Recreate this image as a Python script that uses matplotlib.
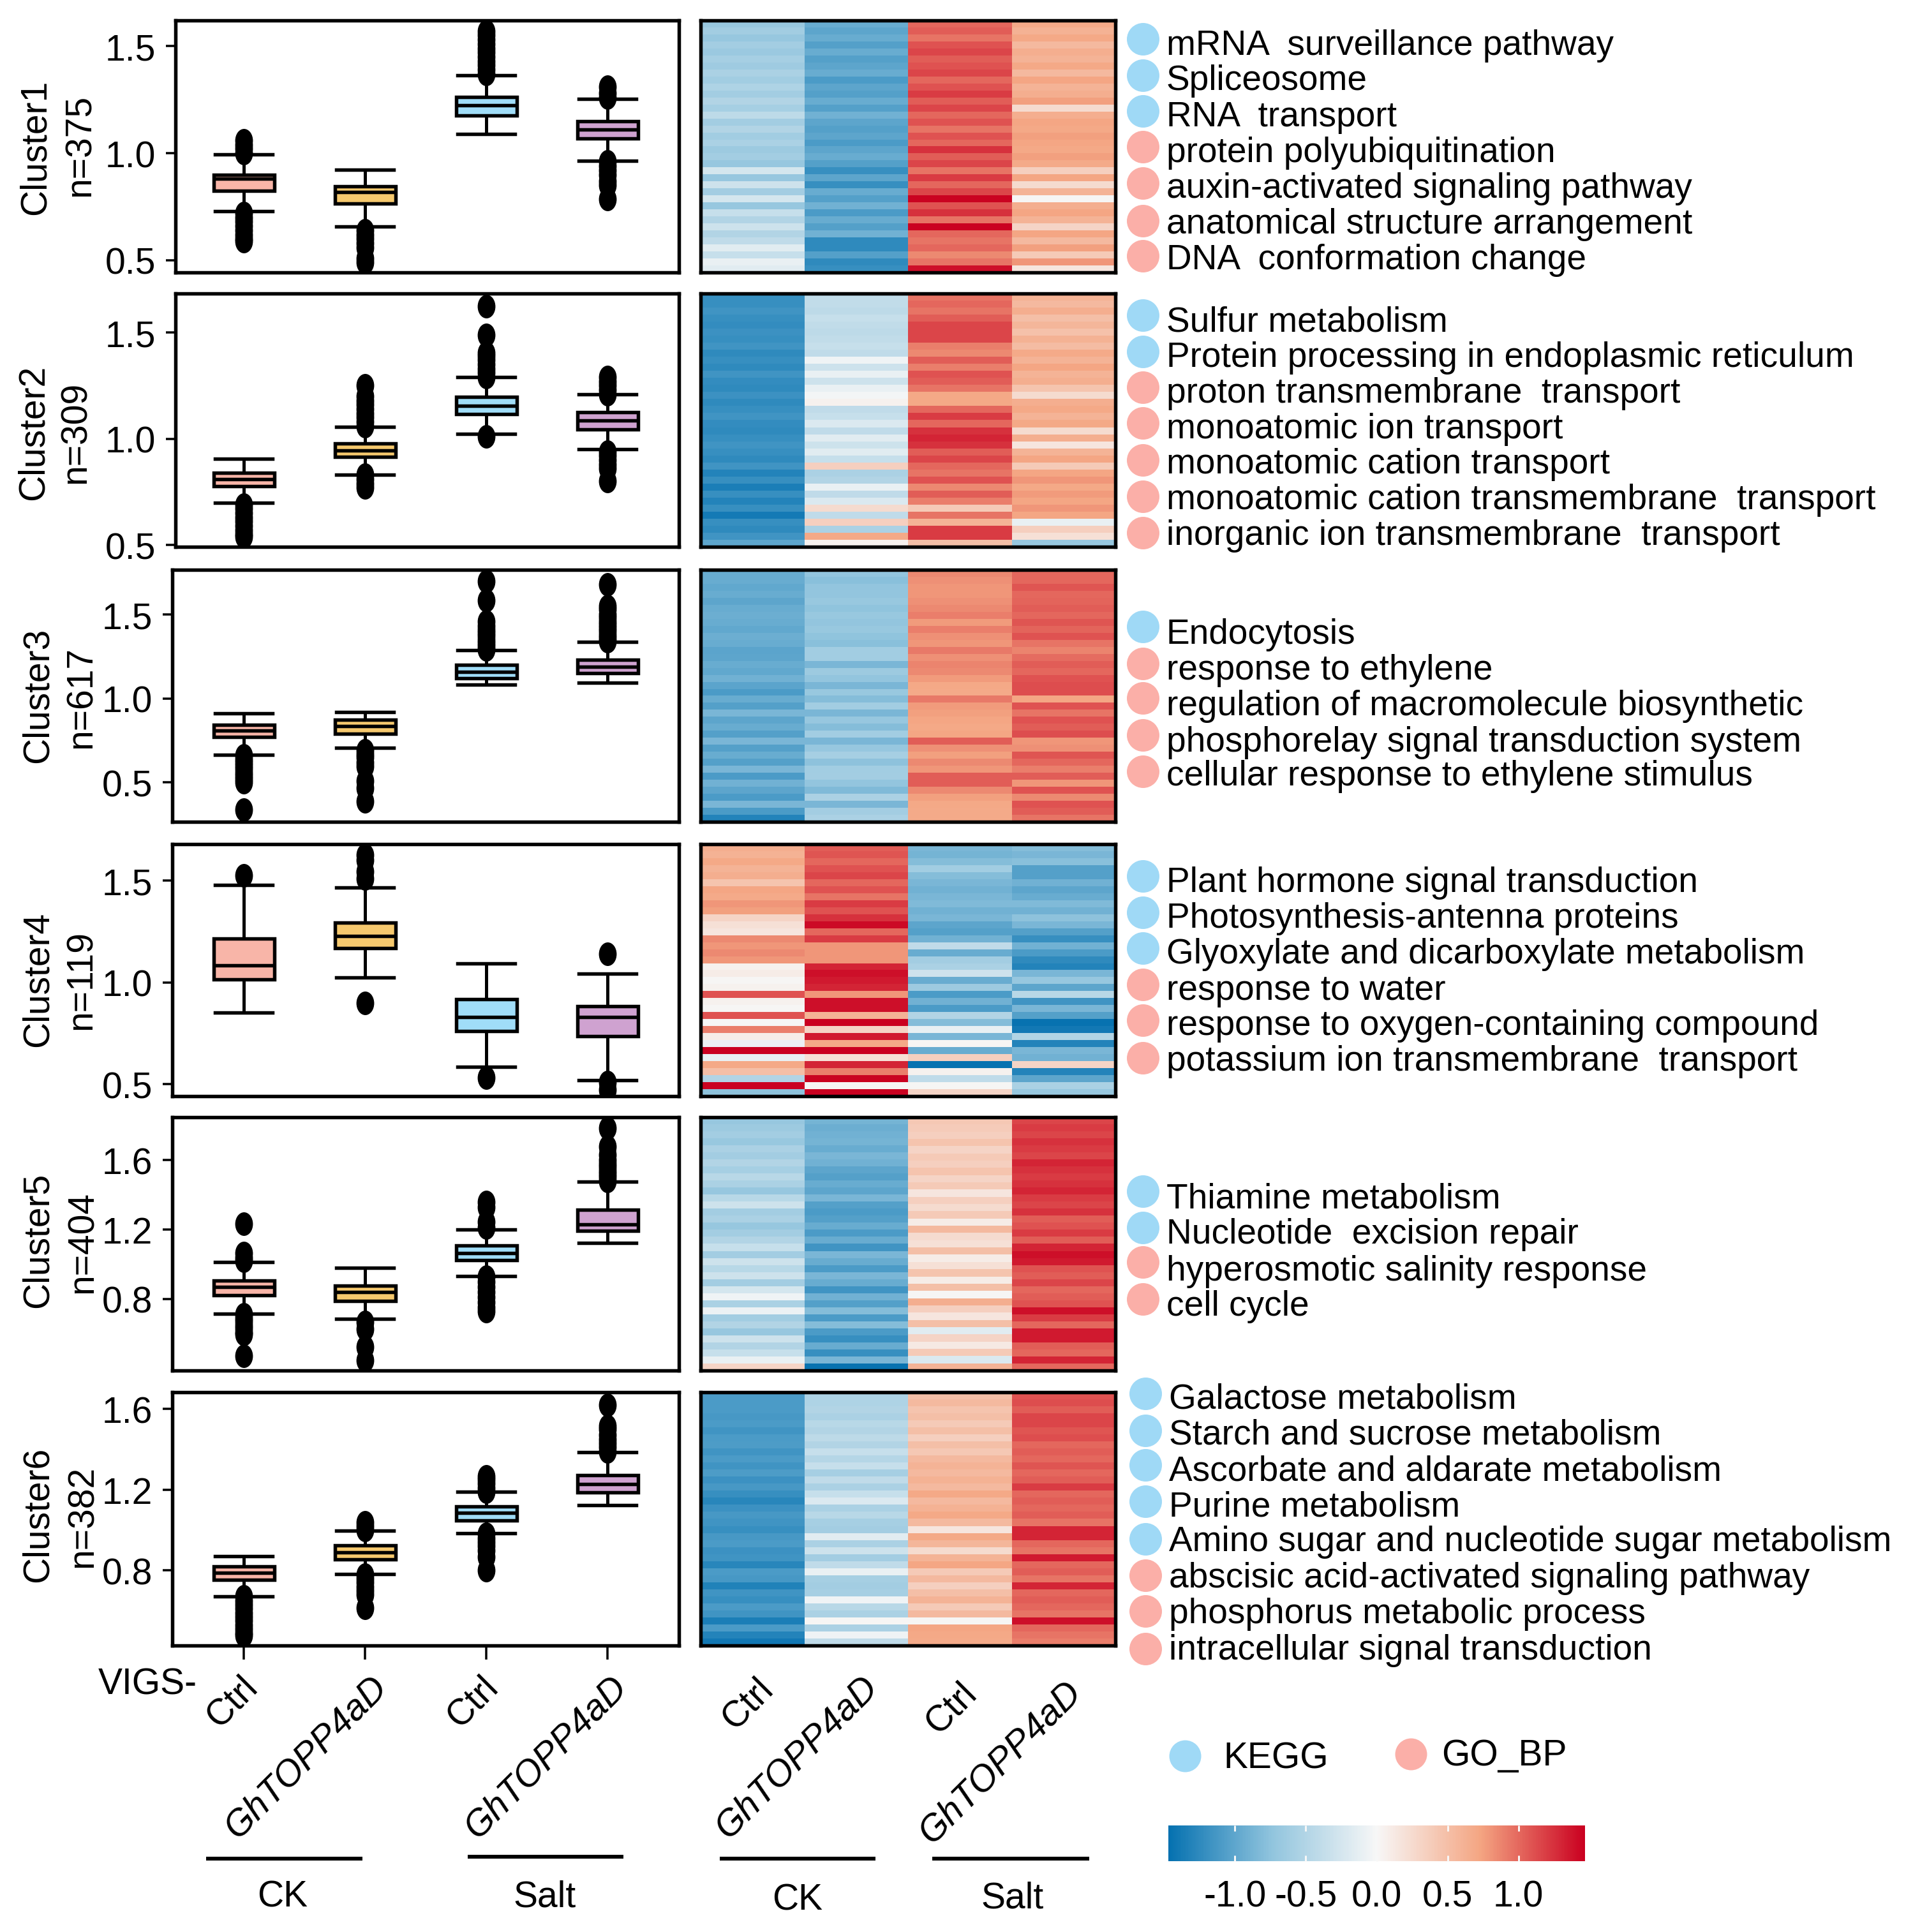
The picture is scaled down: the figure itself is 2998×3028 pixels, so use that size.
import numpy as np
import matplotlib
matplotlib.use('Agg')
import matplotlib.pyplot as plt
from matplotlib.colors import LinearSegmentedColormap, Normalize
from matplotlib.cm import ScalarMappable
from matplotlib.path import Path
from matplotlib.transforms import Affine2D

plt.rcParams['font.family'] = ['Liberation Sans', 'DejaVu Sans']

W, H = 2998, 3029
DPI = 300
PX = 72 / DPI
FS = 57 * PX
TERM_FS = 55 * PX
CLUSTER_FS = 57 * PX

# box statistics, one row per cluster, one value per group
box_med = [[0.88, 0.817, 1.223, 1.111], [0.81, 0.945, 1.155, 1.086], [0.809, 0.834, 1.16, 1.187],
           [1.084, 1.228, 0.83, 0.83], [0.87, 0.839, 1.066, 1.231], [0.787, 0.89, 1.085, 1.227]]
box_q1 = [[0.824, 0.765, 1.175, 1.068], [0.776, 0.914, 1.116, 1.043], [0.772, 0.791, 1.119, 1.149],
          [1.014, 1.167, 0.761, 0.736], [0.821, 0.79, 1.025, 1.194], [0.753, 0.856, 1.049, 1.186]]
box_q3 = [[0.90, 0.846, 1.262, 1.15], [0.841, 0.979, 1.197, 1.124], [0.843, 0.872, 1.2, 1.23],
          [1.216, 1.295, 0.919, 0.884], [0.907, 0.878, 1.107, 1.313], [0.819, 0.923, 1.118, 1.271]]
box_lo = [[0.73, 0.658, 1.09, 0.964], [0.698, 0.831, 1.022, 0.952], [0.664, 0.706, 1.081, 1.094],
          [0.851, 1.026, 0.587, 0.52], [0.715, 0.685, 0.932, 1.122], [0.672, 0.783, 0.985, 1.124]]
box_hi = [[0.995, 0.923, 1.363, 1.253], [0.905, 1.057, 1.29, 1.209], [0.911, 0.921, 1.287, 1.338],
          [1.48, 1.466, 1.093, 1.042], [1.012, 0.981, 1.2, 1.476], [0.87, 0.996, 1.191, 1.386]]

box_fliers = [
    [[1.0, 1.02, 1.04, 1.06, 0.72, 0.70, 0.68, 0.66, 0.64, 0.62, 0.60, 0.59],
     [0.64, 0.62, 0.60, 0.58, 0.56, 0.51, 0.49],
     [1.37, 1.39, 1.41, 1.43, 1.45, 1.47, 1.49, 1.51, 1.53, 1.55, 1.57],
     [1.26, 1.28, 1.31, 0.96, 0.94, 0.92, 0.90, 0.87, 0.85, 0.785]],
    [[0.69, 0.67, 0.65, 0.63, 0.61, 0.59, 0.57, 0.55, 0.54],
     [1.06, 1.08, 1.10, 1.12, 1.14, 1.16, 1.18, 1.20, 1.25, 0.83, 0.81, 0.79, 0.77],
     [1.29, 1.31, 1.33, 1.35, 1.37, 1.39, 1.405, 1.49, 1.624, 1.01],
     [1.21, 1.23, 1.25, 1.27, 1.29, 0.94, 0.92, 0.90, 0.88, 0.86, 0.80]],
    [[0.66, 0.64, 0.62, 0.60, 0.58, 0.56, 0.54, 0.52, 0.50, 0.34],
     [0.69, 0.67, 0.65, 0.62, 0.596, 0.51, 0.468, 0.387],
     [1.29, 1.31, 1.33, 1.35, 1.37, 1.39, 1.41, 1.43, 1.457, 1.585, 1.698],
     [1.34, 1.36, 1.38, 1.40, 1.42, 1.44, 1.46, 1.48, 1.50, 1.53, 1.55, 1.68]],
    [[1.524], [1.51, 1.545, 1.60, 1.625, 0.90], [0.534], [1.14, 0.51, 0.473]],
    [[1.02, 1.04, 1.064, 1.235, 0.71, 0.69, 0.67, 0.65, 0.63, 0.61, 0.596, 0.472],
     [0.668, 0.627, 0.524, 0.445],
     [1.21, 1.245, 1.328, 1.359, 0.93, 0.90, 0.87, 0.84, 0.81, 0.78, 0.75, 0.73],
     [1.48, 1.50, 1.52, 1.54, 1.56, 1.58, 1.60, 1.63, 1.678, 1.786]],
    [[0.67, 0.65, 0.63, 0.61, 0.59, 0.57, 0.55, 0.53, 0.51, 0.49, 0.477],
     [1.0, 1.02, 1.039, 0.78, 0.76, 0.74, 0.72, 0.70, 0.68, 0.613],
     [1.19, 1.21, 1.23, 1.25, 1.266, 0.98, 0.96, 0.94, 0.92, 0.90, 0.867, 0.80],
     [1.39, 1.41, 1.43, 1.45, 1.47, 1.50, 1.515, 1.62]],
]

# heatmap columns, read top to bottom
heat1 = [
    [-.68, -.62, -.70, -.60, -.66, -.58, -.64, -.55, -.62, -.52, -.60, -.50, -.58, -.42, -.60, -.50, -.62, -.55, -.65, -.60, -.70,
     -.25, -.70, -.30, -.60, -.25, -.70, -.35, -.50, -.30, -.50, -.40, -.15, -.35, -.10, -.15],
    [-.95, -1.0, -.95, -1.05, -.95, -1.05, -1.0, -.95, -1.1, -1.0, -1.05, -.95, -1.05, -.9, -1.0, -1.05, -1.0, -1.1, -1.0, -.95, -1.05,
     -1.2, -1.0, -1.2, -.95, -1.05, -.9, -1.1, -.95, -1.05, -.9, -1.25, -1.25, -1.05, -1.25, -1.2],
    [1.0, 1.05, .95, 1.1, 1.15, 1.05, 1.1, 1.15, 1.0, 1.1, 1.2, 1.05, 1.15, 1.0, 1.1, .95, 1.1, 1.0, 1.25, 1.05, 1.15,
     .95, 1.2, 1.0, 1.15, 1.45, 1.1, 1.25, .95, 1.45, 1.0, .95, 1.0, .85, .95, 1.4],
    [.68, .62, .70, .55, .65, .60, .70, .55, .72, .60, .65, .75, .25, .65, .72, .70, .75, .72, .70, .75, .68,
     .35, .72, .25, .60, .02, .65, .72, .60, .30, .72, .55, .75, .40, .80, .15],
]
heat2 = [
    [-1.2, -1.2, -1.15, -1.2, -1.22, -1.18, -1.2, -1.15, -1.25, -1.2, -1.25, -1.15, -1.22, -1.25, -1.18, -1.25, -1.2, -1.15, -1.22, -1.25, -1.2, -1.15,
     -1.2, -1.25, -1.15, -1.3, -1.2, -1.35, -1.2, -1.3, -1.2, -1.38, -1.2, -1.25, -1.15, -1.0],
    [-.38, -.38, -.42, -.35, -.38, -.42, -.38, -.35, -.4, -.05, -.3, -.1, -.3, -.1, -.03, .05, -.4, -.35, -.2, -.4, -.15, -.3, -.15, -.35,
     .35, -.55, -.5, -.1, -.4, -.2, .25, -.4, .35, -.55, .7, .05],
    [.95, 1.0, .95, 1.05, 1.15, 1.15, 1.15, .9, .85, 1.05, .9, 1.1, 1.05, .95, .7, .7, 1.0, 1.2, 1.0, 1.25, 1.3, 1.25, 1.05, 1.15, 1.0, .95, 1.1, .85, 1.05, .9,
     .4, .95, .6, 1.2, 1.2, .5],
    [.62, .55, .65, .50, .58, .48, .62, .52, .68, .60, .72, .60, .65, .45, .25, .65, .70, .60, .70, .25, .65, .15, .60, .72, .40, .72, .80, .70, .78, .72, .80,
     .72, -.1, .35, .2, -.7],
]
heat3 = [
    [-.95, -.95, -.98, -.95, -1.0, -.95, -.92, -.95, -.98, -.92, -.95, -1.02, -1.0, -.95, -.98, -.9, -1.02, -1.1, -.95, -1.05, -.85, -1.0, -.95, -1.05,
     -.85, -1.05, -.95, -1.05, -.85, -1.1, -.9, -1.0, -1.1, -.85, -1.1, -1.3],
    [-.72, -.78, -.72, -.72, -.68, -.74, -.68, -.72, -.68, -.74, -.78, -.62, -.62, -.85, -.65, -.72, -.85, -.68, -.8, -.62, -.85, -.7, -.8, -.62, -.85,
     -.7, -.58, -.75, -.62, -.6, -.72, -.82, -.55, -.85, -.6, -.55],
    [.85, .82, .80, .80, .82, .85, .90, .78, .90, .82, .80, .92, .82, .88, .85, .78, .70, .68, .92, .78, .75, .72, .70, .72, 1.05, .82, .75, .85, .8,
     1.05, 1.05, .85, .75, .70, .68, .68],
    [1.0, 1.0, 1.08, 1.0, 1.02, 1.05, 1.0, 1.08, 1.02, 1.1, .95, .88, .98, 1.05, 1.0, 1.1, 1.12, 1.12, .72, 1.1, .95, 1.1, 1.05, 1.12, .8, .82, 1.08, 1.0,
     .9, 1.05, .8, 1.1, .85, 1.1, 1.05, .95],
]
heat4 = [
    [.65, .62, .70, .60, .65, .45, .72, .68, .80, .75, .30, .20, .15, .85, .80, .85, .80, .05, .10, .02, .05, 1.1, .05, .02, 1.1, .0, .90, .10, -.08, 1.45,
     -.10, .70, .50, -.50, 1.45, -.75],
    [1.05, 1.08, 1.0, 1.1, 1.15, 1.0, 1.1, .95, 1.2, 1.1, 1.25, 1.42, 1.0, 1.2, .8, .8, .8, 1.3, 1.4, 1.35, 1.3, .8, 1.4, 1.4, .6, 1.5, .3, 1.35, .7, 1.5,
     .2, 1.3, .9, 1.45, .0, 1.45],
    [-.85, -.88, -.8, -.62, -.8, -.85, -.9, -.85, -.82, -.9, -.85, -1.0, -1.05, -.9, -.4, -.95, -.6, -.55, -.3, -.95, -.65, -1.1, -.9, -1.1, -.5, -.8, -.1,
     -.85, .02, -.95, .35, -1.45, .05, -.4, .02, .3],
    [-.8, -.85, -.78, -1.05, -1.05, -.9, -1.0, -.95, -.82, -.9, -.75, -.85, -1.05, -1.2, -.9, -1.1, -1.25, -1.3, -.85, -.7, -1.0, -.45, -1.15, -.85, -1.05,
     -1.45, -1.4, -.5, -1.3, -.85, -.9, .3, -1.3, -1.0, -.55, -.7],
]
heat5 = [
    [-.70, -.65, -.60, -.68, -.55, -.6, -.5, -.58, -.45, -.55, -.7, -.45, -.3, -.6, -.55, -.7, -.6, -.5, -.35, -.6, -.3, -.45, -.3, -.6, -.25, -.05, -.55,
     -.08, -.6, -.5, -.7, -.3, -.5, -.35, -.1, .3],
    [-.88, -.92, -.9, -.88, -.95, -.85, -.9, -1.0, -1.05, -.95, -1.0, -.85, -1.05, -1.1, -1.05, -.95, -1.1, -.95, -1.15, -.85, -.95, -1.1, -.85, -.95,
     -1.15, -.9, -1.05, -.8, -1.1, -.8, -1.1, -1.2, -.95, -1.2, -.85, -1.45],
    [.42, .38, .35, .45, .30, .40, .35, .45, .30, .40, .15, .35, .25, .40, .10, .55, .25, .20, .50, .10, .20, .45, .10, .50, .02, .65, .35, .15, .50,
     -.15, .30, .12, .40, -.2, .60],
    [1.15, 1.2, 1.15, 1.25, 1.2, 1.15, 1.3, 1.25, 1.2, 1.25, 1.3, 1.2, 1.15, 1.25, 1.05, 1.1, 1.2, 1.05, 1.3, 1.4, 1.35, 1.1, 1.05, 1.15, 1.0, 1.05, 1.1, 1.4,
     1.2, 1.0, 1.35, 1.35, 1.05, 1.0, 1.3, 1.0],
]
heat6 = [
    [-1.1, -1.1, -1.1, -1.12, -1.1, -1.15, -1.1, -1.08, -1.15, -1.1, -1.15, -1.08, -1.18, -1.12, -1.2, -1.28, -1.18, -1.12, -1.15, -1.2, -1.12, -1.1, -1.18,
     -1.15, -1.28, -1.1, -1.12, -1.32, -1.15, -1.2, -1.1, -1.15, -1.35, -1.1, -1.3, -1.4],
    [-.52, -.52, -.5, -.55, -.45, -.5, -.42, -.5, -.35, -.48, -.35, -.58, -.4, -.55, -.35, -.2, -.55, -.45, -.58, -.6, -.15, -.55, -.3, -.6, -.4, -.1, -.58,
     -.6, -.58, -.05, -.45, -.55, .02, -.55, -.05, -.4],
    [.50, .55, .45, .50, .40, .50, .35, .50, .42, .55, .60, .55, .62, .55, .70, .55, .62, .70, .55, .15, .70, .58, .25, .60, .72, .40, .55, .35, .50, .60,
     .40, .55, .02, .72, .70, .68],
    [1.1, 1.12, 1.05, 1.15, 1.15, 1.08, 1.12, 1.0, 1.05, 1.0, 1.08, 1.0, 1.05, 1.2, 1.0, 1.05, 1.0, 1.05, .95, 1.3, 1.3, 1.0, .95, 1.35, 1.0, 1.05, .95, 1.3,
     1.0, 1.05, 1.0, .95, 1.4, 1.0, .95, .9],
]
heat_data = [heat1, heat2, heat3, heat4, heat5, heat6]

cluster_names = ['Cluster1', 'Cluster2', 'Cluster3', 'Cluster4', 'Cluster5', 'Cluster6']
cluster_sizes = ['n=375', 'n=309', 'n=617', 'n=119', 'n=404', 'n=382']
groups = ['Ctrl', 'GhTOPP4aD', 'Ctrl', 'GhTOPP4aD']
box_colors = ['#F8B5A8', '#F6C96E', '#A0DDF8', '#CFA2D0']
kegg_color = '#9FD9F6'
go_color = '#FBAFA8'

terms = [
    [('mRNA  surveillance pathway', 'K'), ('Spliceosome', 'K'), ('RNA  transport', 'K'), ('protein polyubiquitination', 'G'),
     ('auxin-activated signaling pathway', 'G'), ('anatomical structure arrangement', 'G'), ('DNA  conformation change', 'G')],
    [('Sulfur metabolism', 'K'), ('Protein processing in endoplasmic reticulum', 'K'), ('proton transmembrane  transport', 'G'),
     ('monoatomic ion transport', 'G'), ('monoatomic cation transport', 'G'), ('monoatomic cation transmembrane  transport', 'G'),
     ('inorganic ion transmembrane  transport', 'G')],
    [('Endocytosis', 'K'), ('response to ethylene', 'G'), ('regulation of macromolecule biosynthetic', 'G'),
     ('phosphorelay signal transduction system', 'G'), ('cellular response to ethylene stimulus', 'G')],
    [('Plant hormone signal transduction', 'K'), ('Photosynthesis-antenna proteins', 'K'), ('Glyoxylate and dicarboxylate metabolism', 'K'),
     ('response to water', 'G'), ('response to oxygen-containing compound', 'G'), ('potassium ion transmembrane  transport', 'G')],
    [('Thiamine metabolism', 'K'), ('Nucleotide  excision repair', 'K'), ('hyperosmotic salinity response', 'G'), ('cell cycle', 'G')],
    [('Galactose metabolism', 'K'), ('Starch and sucrose metabolism', 'K'), ('Ascorbate and aldarate metabolism', 'K'), ('Purine metabolism', 'K'),
     ('Amino sugar and nucleotide sugar metabolism', 'K'), ('abscisic acid-activated signaling pathway', 'G'),
     ('phosphorus metabolic process', 'G'), ('intracellular signal transduction', 'G')],
]

# layout in pixels of the output picture
panel_top = [33, 461, 894, 1324, 1752, 2183]
panel_bottom = [428, 858, 1289, 1719, 2149, 2580]
box_left = [275, 275, 270, 270, 270, 270]
box_right = 1064
heat_left, heat_right = 1098, 1748
ylims = [(0.443, 1.62), (0.491, 1.684), (0.266, 1.766), (0.442, 1.679), (0.388, 1.847), (0.428, 1.683)]
yticks = [[0.5, 1.0, 1.5]] * 4 + [[0.8, 1.2, 1.6]] * 2
label_x = [(56, 126), (53, 119), (60, 128), (60, 128), (60, 130), (60, 130)]
label_y = [(231, 228), (678, 678), (1090, 1093), (1535, 1536), (1944, 1947), (2374, 2377)]
term_text_x = [1828, 1828, 1828, 1828, 1828, 1832]
term_dot_x = [1791, 1791, 1791, 1791, 1791, 1795]
term_base = [[86, 141, 198, 254, 310, 366, 422], [519, 575, 631, 687, 742, 798, 854], [1009, 1065, 1121, 1178, 1231],
             [1398, 1454, 1510, 1567, 1622, 1678], [1894, 1949, 2007, 2062], [2208, 2264, 2321, 2377, 2431, 2488, 2544, 2601]]
term_dot = [[62, 119, 175, 231, 288, 347, 402], [495, 552, 608, 664, 722, 779, 836], [983, 1041, 1095, 1153, 1210],
            [1374, 1431, 1487, 1544, 1600, 1659], [1868, 1925, 1979, 2037], [2185, 2243, 2297, 2354, 2413, 2470, 2526, 2585]]

cmap = LinearSegmentedColormap.from_list('rb', ['#0571b0', '#92c5de', '#f7f7f7', '#f4a582', '#ca0020'])
norm = Normalize(-1.47, 1.47)

# oval outlier marker, taller than wide like in the picture
oval = Path.unit_circle().transformed(Affine2D().scale(1, 1.33))

fig = plt.figure(figsize=(W / DPI, H / DPI), dpi=DPI)


def make_axes(left, right, top, bottom):
    return fig.add_axes([left / W, 1 - bottom / H, (right - left) / W, (bottom - top) / H])


for i in range(6):
    ax = make_axes(box_left[i], box_right, panel_top[i], panel_bottom[i])
    stats = []
    for g in range(4):
        stats.append({'med': box_med[i][g], 'q1': box_q1[i][g], 'q3': box_q3[i][g], 'whislo': box_lo[i][g],
                      'whishi': box_hi[i][g], 'fliers': box_fliers[i][g]})
    bp = ax.bxp(stats, positions=[1, 2, 3, 4], widths=0.5, patch_artist=True,
                boxprops=dict(linewidth=5.5 * PX, edgecolor='black'),
                medianprops=dict(linewidth=5.5 * PX, color='black'),
                whiskerprops=dict(linewidth=5 * PX, color='black'),
                capprops=dict(linewidth=5.5 * PX, color='black'), capwidths=0.47,
                flierprops=dict(marker=oval, markersize=37 * PX, markerfacecolor='black', markeredgecolor='black',
                                markeredgewidth=0))
    for patch, c in zip(bp['boxes'], box_colors):
        patch.set_facecolor(c)
    # x range set so groups land on the same pixel columns in every panel
    ax.set_xlim(1 + (box_left[i] - 382) / 190, 1 + (box_right - 382) / 190)
    ax.set_ylim(*ylims[i])
    ax.set_yticks(yticks[i])
    ax.set_yticklabels(['%.1f' % v for v in yticks[i]], fontsize=FS)
    ax.tick_params(axis='y', length=15 * PX, width=3.5 * PX, pad=16 * PX)
    if i == 5:
        ax.set_xticks([1, 2, 3, 4])
        ax.set_xticklabels([])
        ax.tick_params(axis='x', length=22 * PX, width=3.5 * PX)
    else:
        ax.set_xticks([])
    for s in ax.spines.values():
        s.set_linewidth(5.5 * PX)

    hax = make_axes(heat_left, heat_right, panel_top[i], panel_bottom[i])
    for j, col in enumerate(heat_data[i]):
        hax.imshow(np.array(col)[:, None], extent=[j, j + 1, 0, 1], aspect='auto', cmap=cmap, norm=norm,
                   interpolation='nearest')
    hax.set_xlim(0, 4)
    hax.set_ylim(0, 1)
    hax.set_xticks([])
    hax.set_yticks([])
    for s in hax.spines.values():
        s.set_linewidth(5.5 * PX)

# overlay in pixel coordinates for the labels and dots
ov = fig.add_axes([0, 0, 1, 1], zorder=5)
ov.set_xlim(0, W)
ov.set_ylim(H, 0)
ov.axis('off')

for i in range(6):
    ov.text(label_x[i][0], label_y[i][0], cluster_names[i], rotation=90, ha='center', va='center', fontsize=CLUSTER_FS)
    ov.text(label_x[i][1], label_y[i][1], cluster_sizes[i], rotation=90, ha='center', va='center', fontsize=CLUSTER_FS)
    for k, (term, src) in enumerate(terms[i]):
        ov.scatter(term_dot_x[i], term_dot[i][k], s=(51 * PX) ** 2, color=kegg_color if src == 'K' else go_color,
                   linewidths=0)
        ov.text(term_text_x[i], term_base[i][k], term, ha='left', va='baseline', fontsize=TERM_FS)

# group labels under the box plots and the heatmaps
label_right = [414, 617, 791, 993, 1222, 1386, 1541, 1705]
label_top = [2617, 2617, 2617, 2617, 2620, 2617, 2627, 2625]
for k in range(8):
    name = groups[k % 4]
    ov.text(label_right[k], label_top[k], name, rotation=45, ha='right', va='top', fontsize=FS,
            style='italic' if name != 'Ctrl' else 'normal')
ov.text(154, 2656, 'VIGS-', ha='left', va='baseline', fontsize=FS)

group_lines = [(323, 568, 2914), (733, 977, 2911), (1128, 1372, 2914), (1461, 1707, 2914)]
for x0, x1, y in group_lines:
    ov.plot([x0, x1], [y, y], color='black', lw=6 * PX, solid_capstyle='butt')
for x, y, s in [(443, 2989, 'CK'), (854, 2989, 'Salt'), (1250, 2994, 'CK'), (1587, 2991, 'Salt')]:
    ov.text(x, y, s, ha='center', va='baseline', fontsize=FS)

# legend
ov.scatter(1857, 2753, s=(50 * PX) ** 2, color=kegg_color, linewidths=0)
ov.text(1917, 2772, 'KEGG', ha='left', va='baseline', fontsize=FS)
ov.scatter(2211, 2750, s=(50 * PX) ** 2, color=go_color, linewidths=0)
ov.text(2259, 2767, 'GO_BP', ha='left', va='baseline', fontsize=FS)

# colour key
cax = make_axes(1831, 2484, 2862, 2918)
cb = fig.colorbar(ScalarMappable(norm=norm, cmap=cmap), cax=cax, orientation='horizontal')
cb.outline.set_visible(False)
cb.set_ticks([-1.0, -0.5, 0.0, 0.5, 1.0])
cb.set_ticklabels(['-1.0', '-0.5', '0.0', '0.5', '1.0'], fontsize=FS)
cax.tick_params(axis='x', direction='in', length=9 * PX, width=3 * PX, color='#f7f7f7', top=True, pad=29 * PX)

fig.savefig('out.png', dpi=DPI, facecolor='white')
